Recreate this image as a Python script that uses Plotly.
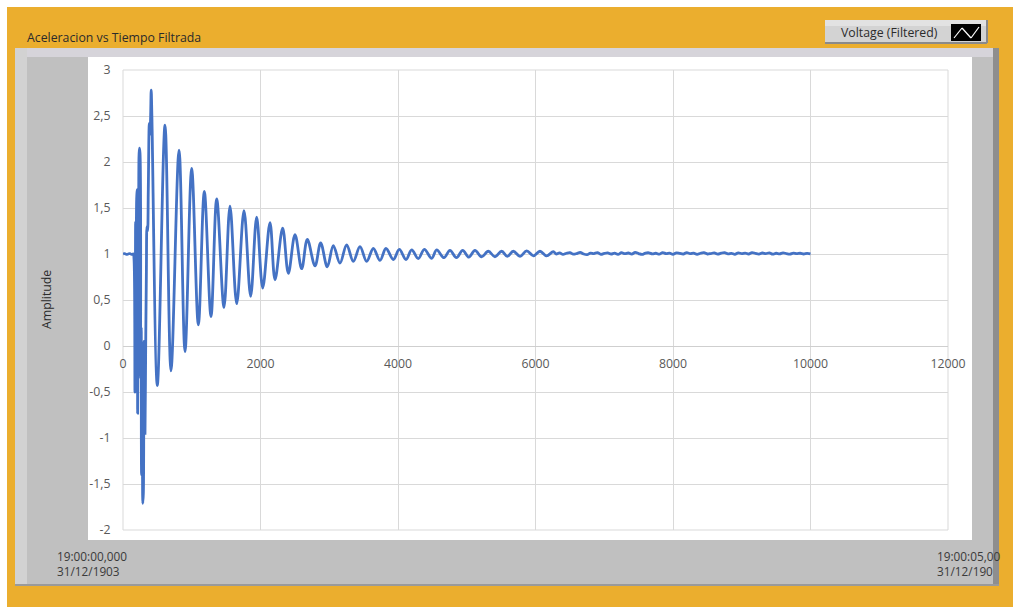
import plotly.graph_objects as go

# ---- data -------------------------------------------------------------
# onset: resting level and the chaotic first impact
onset_t = [0, 25, 50, 75, 100, 125, 150, 160, 174, 180, 184, 192, 199, 208,
           213, 222, 228, 238, 247, 257, 265, 271, 281, 288, 296, 305, 312,
           320, 330, 340, 349, 358, 368, 383, 393, 402, 410, 420]
onset_v = [1.0, 1.005, 0.995, 1.0, 1.005, 0.995, 1.0, 0.95, -0.5, 0.6, 1.35,
           0.9, 1.6, 1.7, -0.73, 0.5, 1.6, 2.15, 2.1, -0.35, 0.2, -1.4, -1.2,
           -1.71, -1.6, 0.05, -0.3, -0.95, 0.0, 0.8, 1.3, 1.25, 1.7, 2.42,
           2.3, 2.5, 2.78, 2.5]

# damped ringing: alternating troughs and crests
decay_t = [499, 611, 698, 815, 902, 999, 1096, 1183, 1280, 1363, 1469, 1556,
           1654, 1760, 1857, 1944, 2032, 2138, 2211, 2322, 2405, 2502, 2599,
           2681, 2793, 2875, 2972, 3059, 3156, 3253, 3350, 3447, 3544, 3641,
           3738, 3825, 3932, 4019, 4116, 4199, 4295, 4383, 4490, 4562, 4669,
           4756, 4850, 4941, 5030, 5120, 5215, 5314, 5410, 5508, 5590, 5677,
           5775, 5872, 5970, 6065, 6160, 6259]
decay_v = [-0.43, 2.40, -0.27, 2.13, -0.06, 1.93, 0.23, 1.68, 0.32, 1.60,
           0.42, 1.52, 0.46, 1.47, 0.54, 1.40, 0.63, 1.34, 0.72, 1.28, 0.79,
           1.21, 0.84, 1.16, 0.87, 1.12, 0.86, 1.09, 0.90, 1.10, 0.92, 1.08,
           0.92, 1.06, 0.93, 1.06, 0.94, 1.05, 0.94, 1.045, 0.95, 1.05, 0.953,
           1.045, 0.96, 1.04, 0.96, 1.04, 0.965, 1.04, 0.97, 1.03, 0.97, 1.03,
           0.975, 1.03, 0.975, 1.035, 0.98, 1.03, 0.98, 1.025]

# settled signal: sensor noise around the resting level
tail_t = list(range(6300, 10001, 50))
tail_v = [1.0, 1.012, 0.995, 1.008, 1.015, 0.998, 1.005, 1.018, 1.0, 0.993,
          1.01, 1.004, 1.016, 0.997, 1.006, 1.012, 1.0, 1.009, 0.996, 1.014,
          1.003, 1.011, 0.999, 1.017, 1.005, 0.995, 1.01, 1.013, 1.001, 1.008,
          0.998, 1.015, 1.004, 1.009, 0.997, 1.012, 1.006, 1.0, 1.016, 1.003,
          1.01, 0.996, 1.008, 1.014, 1.0, 1.005, 1.012, 0.998, 1.009, 1.015,
          1.002, 1.007, 0.997, 1.013, 1.004, 1.01, 1.0, 1.016, 1.006, 0.999,
          1.011, 1.004, 1.013, 0.998, 1.008, 1.002, 1.012, 1.005, 0.999, 1.01,
          1.004, 1.008, 1.0, 1.006, 1.002]

x_ticks = [0, 2000, 4000, 6000, 8000, 10000, 12000]
x_tick_labels = ["0", "2000", "4000", "6000", "8000", "10000", "12000"]
y_ticks = [-2, -1.5, -1, -0.5, 0, 0.5, 1, 1.5, 2, 2.5, 3]
y_tick_labels = ["-2", "-1,5", "-1", "-0,5", "0", "0,5", "1", "1,5", "2",
                 "2,5", "3"]

series_name = "Voltage (Filtered)"
chart_title = "Aceleracion vs Tiempo Filtrada"
y_title = "Amplitude"
t_first = "19:00:00,000<br>31/12/1903"
t_last = "19:00:05,00<br>31/12/190"

# ---- layout helpers ---------------------------------------------------
W, H = 1013, 607
L, R, T, B = 123, 65, 70, 77
PW, PH = W - L - R, H - T - B


def px(x):
    return (x - L) / PW


def py(y):
    return (H - B - y) / PH


def rect(x0, y0, x1, y1, fill, line=None, layer="below"):
    return dict(type="rect", xref="paper", yref="paper",
                x0=px(x0), x1=px(x1), y0=py(y1), y1=py(y0),
                fillcolor=fill, layer=layer,
                line=dict(width=1 if line else 0, color=line or fill))


def seg(x0, y0, x1, y1, color, width=1, layer="below"):
    return dict(type="line", xref="paper", yref="paper",
                x0=px(x0), x1=px(x1), y0=py(y0), y1=py(y1),
                layer=layer, line=dict(color=color, width=width))


ORANGE = "#EBAE2E"
PANEL = "#C0C0C0"
TEXT = "#2B2B2B"
GRID = "#D9D9D9"
LINE = "#4472C4"

t_all = onset_t + decay_t + tail_t
v_all = onset_v + decay_v + tail_v

fig = go.Figure()
fig.add_trace(go.Scatter(x=t_all, y=v_all, mode="lines", name=series_name,
                         line=dict(color=LINE, width=2.8, shape="spline",
                                   smoothing=1.0),
                         showlegend=False))

shapes = [
    # page edges
    rect(0, 0, W, 7, "#FFFFFF"),
    rect(0, 0, 7, H, "#FFFFFF"),
    # grey chart panel with bevel
    rect(15, 48, 999, 585, PANEL),
    rect(15, 48, 999, 57, "#D6D4DA"),
    rect(15, 48, 27, 585, "#D2D2D2"),
    rect(993, 48, 999, 585, "#8E8E8E"),
    seg(15, 585, 999, 585, "#9A9A9A", 2),
    # white plotting surface
    rect(88, 57, 972, 540, "#FFFFFF"),
    # frame of the plot area
    dict(type="rect", xref="x domain", yref="y domain", x0=0, x1=1, y0=0,
         y1=1, layer="below", line=dict(color=GRID, width=1)),
    # legend plate
    rect(825, 20, 987, 43, "#D3D3D3"),
    rect(825, 20, 987, 26, "#E2E2E2"),
    seg(825, 43, 987, 43, "#8A8A8A", 2),
    seg(987, 20, 987, 43, "#8A8A8A", 2),
    rect(951, 24, 981, 41, "#000000"),
]
# legend line glyph
zig_x = [954, 962, 971, 979]
zig_y = [38, 28, 38, 27]
for i in range(3):
    shapes.append(seg(zig_x[i], zig_y[i], zig_x[i + 1], zig_y[i + 1],
                      "#FFFFFF", 1.2))

ui_font = "Open Sans"
ui_size = 12.3
annotations = [
    dict(text=chart_title, x=px(25), y=py(37), xref="paper", yref="paper",
         xanchor="left", yanchor="middle", showarrow=False,
         font=dict(family=ui_font, size=ui_size, color=TEXT)),
    dict(text=series_name, x=px(889), y=py(32), xref="paper", yref="paper",
         xanchor="center", yanchor="middle", showarrow=False,
         font=dict(family=ui_font, size=ui_size, color=TEXT)),
    dict(text=y_title, x=px(46), y=py(300), xref="paper", yref="paper",
         xanchor="center", yanchor="middle", showarrow=False, textangle=-90,
         font=dict(family=ui_font, size=ui_size, color=TEXT)),
    dict(text=t_first, x=px(55), y=py(563), xref="paper", yref="paper",
         xanchor="left", yanchor="middle", showarrow=False, align="left",
         font=dict(family=ui_font, size=11.8, color="#3A3A3A")),
    dict(text=t_last, x=px(935), y=py(563), xref="paper", yref="paper",
         xanchor="left", yanchor="middle", showarrow=False, align="left",
         font=dict(family=ui_font, size=11.8, color="#3A3A3A")),
]

tick_font = dict(family=ui_font, size=12.3, color="#595959")

fig.update_layout(
    width=W, height=H,
    margin=dict(l=L, r=R, t=T, b=B, pad=0),
    paper_bgcolor=ORANGE,
    plot_bgcolor="rgba(0,0,0,0)",
    shapes=shapes,
    annotations=annotations,
    xaxis=dict(range=[0, 12000], tickvals=x_ticks, ticktext=x_tick_labels,
               showgrid=True, gridcolor=GRID, gridwidth=1, zeroline=False,
               showline=False, anchor="free", position=2 / 5,
               ticks="outside", ticklen=6, tickcolor="rgba(0,0,0,0)",
               tickfont=tick_font),
    yaxis=dict(range=[-2, 3], tickvals=y_ticks, ticktext=y_tick_labels,
               showgrid=True, gridcolor=GRID, gridwidth=1, zeroline=True,
               zerolinecolor="#CFCFCF", zerolinewidth=1, showline=False,
               ticks="outside", ticklen=9, tickcolor="rgba(0,0,0,0)",
               tickfont=tick_font),
)

fig.write_html("out.html")
